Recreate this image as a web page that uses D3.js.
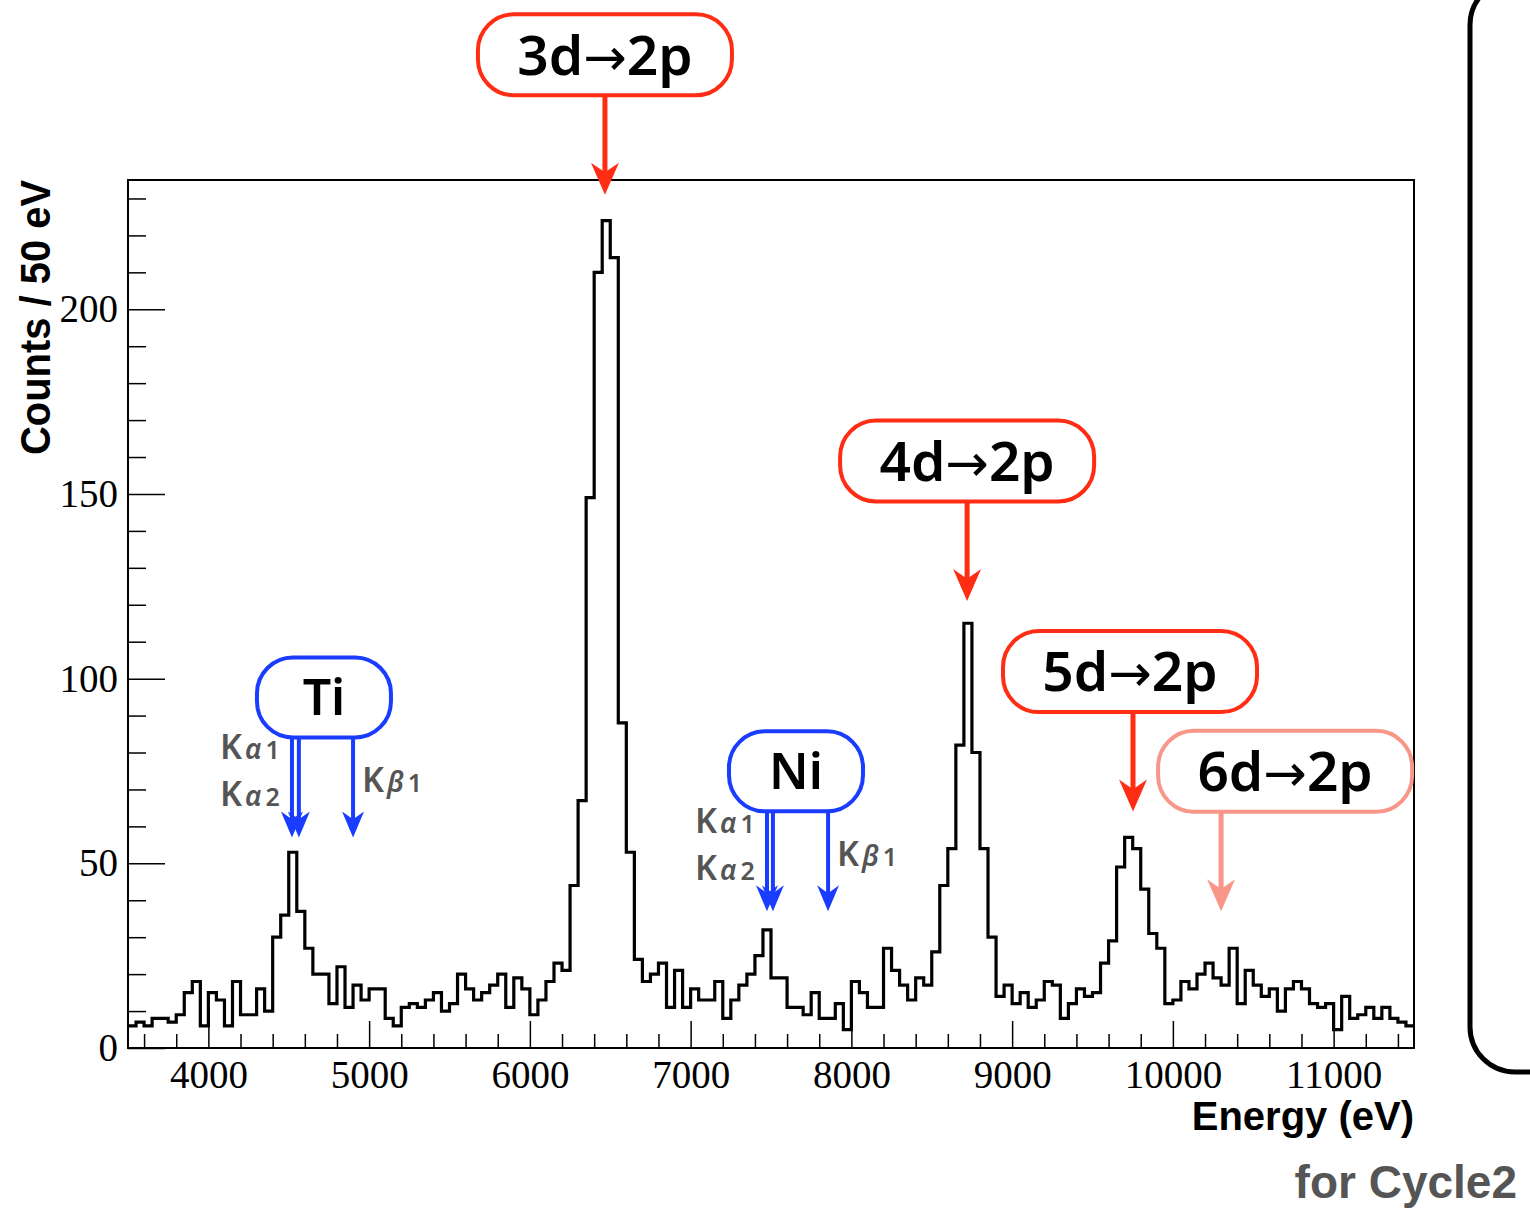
<!DOCTYPE html>
<html>
<head>
<meta charset="utf-8">
<script src="https://cdn.jsdelivr.net/npm/d3@7"></script>
<style>
body { margin: 0; background: #fff; }
</style>
</head>
<body>
<svg></svg>
<script>
// histogram: 50 eV bins starting at 3500 eV
var binStart = 3500;
var binWidth = 50;
var counts = [
  6, 7, 6, 8, 8, 7, 9, 15, 18, 6,
  15, 13, 6, 18, 9, 9, 16, 10, 30, 36,
  53, 37, 27, 20, 20, 12, 22, 11, 17, 13,
  16, 16, 8, 6, 11, 12, 11, 13, 15, 10,
  12, 20, 16, 13, 15, 17, 20, 11, 19, 16,
  9, 13, 18, 23, 21, 44, 67, 149, 210, 224,
  214, 88, 53, 24, 18, 20, 23, 11, 21, 11,
  16, 13, 13, 18, 8, 13, 17, 20, 25, 32,
  19, 19, 11, 11, 9, 15, 8, 8, 12, 5,
  18, 15, 11, 11, 27, 21, 17, 13, 19, 17,
  26, 44, 54, 82, 115, 80, 54, 30, 14, 17,
  12, 15, 11, 13, 18, 17, 8, 12, 16, 14,
  15, 23, 29, 49, 57, 54, 43, 31, 27, 12,
  13, 18, 16, 20, 23, 19, 17, 27, 12, 21,
  17, 14, 16, 10, 16, 18, 16, 12, 11, 12,
  5, 14, 8, 9, 11, 8, 11, 8, 7, 6
];
var xTicks = [4000, 5000, 6000, 7000, 8000, 9000, 10000, 11000];
var yTicks = [0, 50, 100, 150, 200];

// muonic transitions (upper level, lower level)
var lineFrom = ["3d", "4d", "5d", "6d"];
var lineTo = ["2p", "2p", "2p", "2p"];
var lineEnergy = [6467, 8720, 9752, 10300];
var lineTip = [231, 121, 64, 37];

// fluorescence lines
var elements = ["Ti", "Ni"];
var kAlpha1 = [4520, 7475];
var kAlpha2 = [4563, 7512];
var kBeta1 = [4900, 7855];
var kTip = [57, 37];

var W = 1530, H = 1209;
var plotLeft = 128, plotRight = 1414, plotTop = 180, plotBottom = 1048;
var red = "#ff2d14", pink = "#f8968a", blue = "#1a3cff", gray = "#555";

var svg = d3.select("svg")
            .attr("width", W)
            .attr("height", H);

var x = d3.scaleLinear().domain([3500, 11500]).range([plotLeft, plotRight]);
var y = d3.scaleLinear().domain([0, 235]).range([plotBottom, plotTop]);

// axes (ticks point inward like ROOT)
var minorX = d3.range(3600, 11500, 200).filter(function(v){ return v % 1000 != 0; });
var minorY = d3.range(0, 236, 10).filter(function(v){ return v % 50 != 0; });

svg.append("g")
   .attr("transform", "translate(0," + plotBottom + ")")
   .call(d3.axisBottom(x).tickValues(minorX).tickSize(-14).tickFormat(""))
   .call(function(g){ g.select(".domain").remove(); });

svg.append("g")
   .attr("transform", "translate(0," + plotBottom + ")")
   .call(d3.axisBottom(x).tickValues(xTicks).tickSize(-27).tickPadding(12).tickFormat(d3.format("d")))
   .call(function(g){ g.select(".domain").remove(); })
   .selectAll("text")
   .attr("font-family", "Liberation Serif, Times New Roman, serif")
   .attr("font-size", 39)
   .attr("fill", "#000");

svg.append("g")
   .attr("transform", "translate(" + plotLeft + ",0)")
   .call(d3.axisLeft(y).tickValues(minorY).tickSize(-18).tickFormat(""))
   .call(function(g){ g.select(".domain").remove(); });

svg.append("g")
   .attr("transform", "translate(" + plotLeft + ",0)")
   .call(d3.axisLeft(y).tickValues(yTicks).tickSize(-37).tickPadding(10))
   .call(function(g){ g.select(".domain").remove(); })
   .selectAll("text")
   .attr("font-family", "Liberation Serif, Times New Roman, serif")
   .attr("font-size", 39)
   .attr("fill", "#000");

svg.selectAll(".tick line").attr("stroke", "#000").attr("stroke-width", 1.5);

// histogram outline
var pts = counts.map(function(c, i){ return [binStart + i * binWidth, c]; });
pts.push([binStart + counts.length * binWidth, counts[counts.length - 1]]);

var line = d3.line()
             .x(function(d){ return x(d[0]); })
             .y(function(d){ return y(d[1]); })
             .curve(d3.curveStepAfter);

svg.append("path")
   .datum(pts)
   .attr("d", line)
   .attr("fill", "none")
   .attr("stroke", "#000")
   .attr("stroke-width", 3.2);

// frame
svg.append("rect")
   .attr("x", plotLeft).attr("y", plotTop)
   .attr("width", plotRight - plotLeft).attr("height", plotBottom - plotTop)
   .attr("fill", "none")
   .attr("stroke", "#000")
   .attr("stroke-width", 2);

// axis titles
svg.append("text")
   .attr("transform", "translate(50," + plotTop + ") rotate(-90)")
   .attr("text-anchor", "end")
   .attr("font-family", "Liberation Sans, Arial, sans-serif")
   .attr("font-weight", "bold")
   .attr("font-size", 42)
   .attr("textLength", 275)
   .attr("lengthAdjust", "spacingAndGlyphs")
   .text("Counts / 50 eV");

svg.append("text")
   .attr("x", plotRight)
   .attr("y", 1130)
   .attr("text-anchor", "end")
   .attr("font-family", "Liberation Sans, Arial, sans-serif")
   .attr("font-weight", "bold")
   .attr("font-size", 40)
   .text("Energy (eV)");

svg.append("text")
   .attr("x", 1517)
   .attr("y", 1198)
   .attr("text-anchor", "end")
   .attr("font-family", "Liberation Sans, Arial, sans-serif")
   .attr("font-weight", "bold")
   .attr("font-size", 46)
   .attr("fill", gray)
   .text("for Cycle2");

// partly hidden box on the right
svg.append("rect")
   .attr("x", 1470).attr("y", -20)
   .attr("width", 200).attr("height", 1092)
   .attr("rx", 45)
   .attr("fill", "none")
   .attr("stroke", "#000")
   .attr("stroke-width", 5);

var arrow = function(xp, y0, y1, color, sw, hw, hl)
{
  svg.append("line")
     .attr("x1", xp).attr("x2", xp)
     .attr("y1", y0).attr("y2", y1 - hl * 0.6)
     .attr("stroke", color)
     .attr("stroke-width", sw);
  svg.append("path")
     .attr("d", "M" + xp + "," + y1 +
                " L" + (xp - hw) + "," + (y1 - hl) +
                " L" + xp + "," + (y1 - hl * 0.7) +
                " L" + (xp + hw) + "," + (y1 - hl) + " Z")
     .attr("fill", color);
};

var box = function(cx, cy, w, h, color)
{
  svg.append("rect")
     .attr("x", cx - w / 2).attr("y", cy - h / 2)
     .attr("width", w).attr("height", h)
     .attr("rx", 36)
     .attr("fill", "#fff")
     .attr("stroke", color)
     .attr("stroke-width", 4);
  return svg.append("text")
            .attr("x", cx).attr("y", cy)
            .attr("dy", "0.36em")
            .attr("text-anchor", "middle")
            .attr("font-family", "Noto Sans, Open Sans, sans-serif")
            .attr("font-weight", 600);
};

// transition labels
var boxShift = [0, 0, -3, 64];
lineFrom.forEach(function(lab, i){
  var xp = x(lineEnergy[i]);
  var tip = y(lineTip[i]);
  var col = i == 3 ? pink : red;
  arrow(xp, tip - 100, tip, col, 5, 14, 32);
  var t = box(xp + boxShift[i], tip - 100 - 40, 254, 81, col).attr("font-size", 55);
  t.append("tspan").text(lab);
  t.append("tspan")
   .attr("font-family", "DejaVu Sans, sans-serif")
   .attr("font-weight", "normal")
   .attr("font-size", 52)
   .text("\u2192");
  t.append("tspan").text(lineTo[i]);
});

// element labels
var elShift = [32, 29];
var kLabel = function(xp, yp, sub)
{
  var t = svg.append("text")
             .attr("x", xp).attr("y", yp)
             .attr("font-family", "Noto Sans, Open Sans, sans-serif")
             .attr("font-weight", 600)
             .attr("font-size", 34)
             .attr("fill", gray);
  t.append("tspan").text("K");
  t.append("tspan").attr("font-size", 28).attr("font-style", "italic").attr("dx", 3).text(sub[0]);
  t.append("tspan").attr("font-size", 25).attr("dx", 4).text(sub[1]);
};

elements.forEach(function(el, i){
  var tip = y(kTip[i]);
  var top0 = tip - 100;
  var xa1 = x(kAlpha1[i]), xa2 = x(kAlpha2[i]), xb = x(kBeta1[i]);
  arrow(xa1, top0, tip, blue, 4, 11, 26);
  arrow(xa2, top0, tip, blue, 4, 11, 26);
  arrow(xb, top0, tip, blue, 4, 11, 26);
  box(xa1 + elShift[i], top0 - 40, 134, 80, blue).attr("font-size", 50).text(el);
  kLabel(xa1 - 72, top0 + 22, ["\u03b1", "1"]);
  kLabel(xa1 - 72, top0 + 69, ["\u03b1", "2"]);
  kLabel(xb + 9, top0 + 55, ["\u03b2", "1"]);
});
</script>
</body>
</html>
